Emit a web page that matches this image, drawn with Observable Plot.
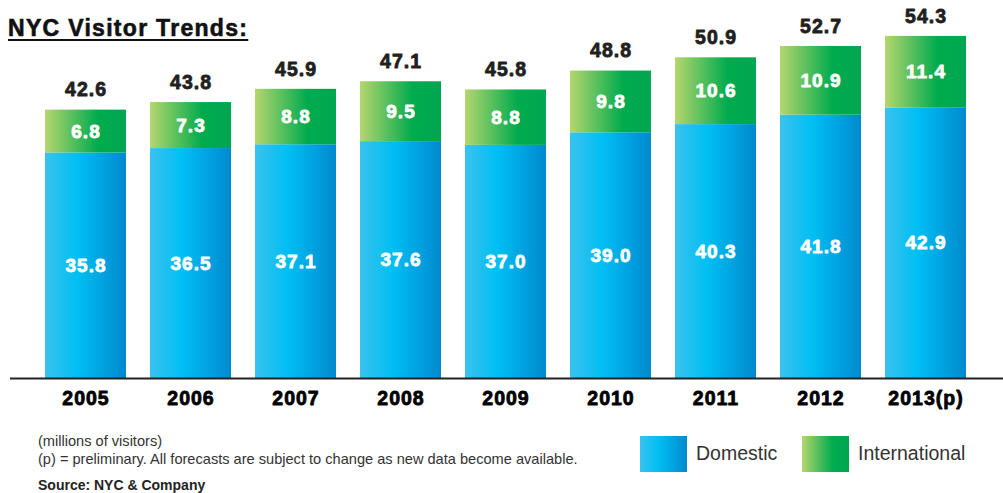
<!DOCTYPE html>
<html>
<head>
<meta charset="utf-8">
<script src="https://cdn.jsdelivr.net/npm/d3@7"></script>
<script src="https://cdn.jsdelivr.net/npm/@observablehq/plot@0.6"></script>
<style>
  html, body { margin: 0; padding: 0; background: #fff; overflow: hidden; }
  body { position: relative; width: 1003px; height: 493px; font-family: "Liberation Sans", Arial, Helvetica, sans-serif; }
  #chart { position: absolute; left: 0; top: 0; }
  #title { position: absolute; left: 8px; top: 16.5px; font-size: 23px; line-height: 23px; font-weight: bold; letter-spacing: 1.3px; color: #111;
           -webkit-text-stroke: 0.6px #111;
           text-decoration: underline; text-decoration-thickness: 2px; text-underline-offset: 3px; white-space: nowrap; z-index: 2; }
  .note { position: absolute; left: 38px; font-size: 14.6px; line-height: 16px; color: #333; white-space: nowrap; }
  .src { font-weight: bold; font-size: 14px; color: #222; }
  .sw { position: absolute; top: 436px; width: 47px; height: 36px; }
  .sw.dom { left: 640px; background: linear-gradient(to right, #3ac2ee 0%, #00bff3 40%, #0089ce 100%); }
  .sw.int { left: 802px; background: linear-gradient(to right, #b5d66e 0%, #00ab4e 65%, #00a651 100%); }
  .lt { position: absolute; top: 441px; font-size: 19.5px; line-height: 24px; color: #333; white-space: nowrap; }
</style>
</head>
<body>
<svg width="0" height="0" style="position:absolute">
  <defs>
    <linearGradient id="gBlue" x1="0" y1="0" x2="1" y2="0">
      <stop offset="0%" stop-color="#3ac2ee"/>
      <stop offset="40%" stop-color="#00bff3"/>
      <stop offset="100%" stop-color="#0089ce"/>
    </linearGradient>
    <linearGradient id="gGreen" x1="0" y1="0" x2="1" y2="0">
      <stop offset="0%" stop-color="#b5d66e"/>
      <stop offset="65%" stop-color="#00ab4e"/>
      <stop offset="100%" stop-color="#00a651"/>
    </linearGradient>
  </defs>
</svg>
<div id="chart"></div>
<div id="title">NYC Visitor Trends:</div>
<div class="note" style="top:433px">(millions of visitors)</div>
<div class="note" style="top:451px">(p) = preliminary. All forecasts are subject to change as new data become available.</div>
<div class="note src" style="top:477px">Source: NYC &amp; Company</div>
<div class="sw dom"></div><div class="lt" style="left:696px">Domestic</div>
<div class="sw int"></div><div class="lt" style="left:858px">International</div>
<script>
const years = ["2005", "2006", "2007", "2008", "2009", "2010", "2011", "2012", "2013(p)"];
const domestic = [35.8, 36.5, 37.1, 37.6, 37.0, 39.0, 40.3, 41.8, 42.9];
const international = [6.8, 7.3, 8.8, 9.5, 8.8, 9.8, 10.6, 10.9, 11.4];
const totals = [42.6, 43.8, 45.9, 47.1, 45.8, 48.8, 50.9, 52.7, 54.3];

const data = years.map((y, i) => ({
  year: y, dom: domestic[i], intl: international[i], total: totals[i]
}));

const chart = Plot.plot({
  width: 1003,
  height: 420,
  marginLeft: 17.4,
  marginRight: 10.6,
  marginTop: 0,
  marginBottom: 42,
  style: { fontFamily: "'Liberation Sans', Arial, Helvetica, sans-serif", background: "transparent", overflow: "visible" },
  x: { domain: years, padding: 0.233, axis: null },
  y: { domain: [0, 60], axis: null },
  marks: [
    Plot.barY(data, { x: "year", y1: 0, y2: "dom", fill: "url(#gBlue)" }),
    Plot.barY(data, { x: "year", y1: "dom", y2: "total", fill: "url(#gGreen)" }),
    Plot.ruleY([0], { stroke: "#222", strokeWidth: 2, insetLeft: -7.4, insetRight: -10.6 }),
    Plot.text(data, { x: "year", y: d => d.dom / 2, text: d => d.dom.toFixed(1), fill: "white", stroke: "white", strokeWidth: 0.8, fontSize: 19, fontWeight: "bold" }),
    Plot.text(data, { x: "year", y: d => d.dom + d.intl / 2, text: d => d.intl.toFixed(1), fill: "white", stroke: "white", strokeWidth: 0.8, fontSize: 19, fontWeight: "bold" }),
    Plot.text(data, { x: "year", y: "total", text: d => d.total.toFixed(1), dy: -20, fill: "#231f20", stroke: "#231f20", strokeWidth: 0.8, fontSize: 19.5, fontWeight: "bold" }),
    Plot.text(years, { x: d => d, frameAnchor: "bottom", dy: 26, text: d => d, fill: "#000", stroke: "#000", strokeWidth: 0.8, fontSize: 19.5, fontWeight: "bold" })
  ]
});
d3.select(chart).selectAll("text").style("letter-spacing", "1px");
document.getElementById("chart").appendChild(chart);
</script>
</body>
</html>
